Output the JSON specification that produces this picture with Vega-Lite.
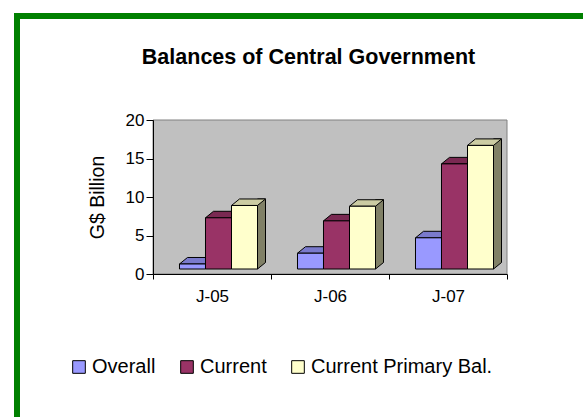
{
  "$schema": "https://vega.github.io/schema/vega-lite/v6.json",
  "width": 566,
  "height": 401,
  "autosize": {"type": "none"},
  "padding": {"left": 17, "top": 16, "right": 0, "bottom": 0},
  "background": "white",
  "config": {
    "font": "Liberation Sans",
    "view": {"stroke": "#008000", "strokeWidth": 6, "strokeDash": [566, 967, 401, 0], "strokeCap": "square", "fill": "white"},
    "axis": {"labelFont": "Liberation Sans", "titleFont": "Liberation Sans", "labelColor": "black", "titleColor": "black", "domainColor": "black", "tickColor": "black", "grid": false}
  },
  "title": {
    "text": "Balances of Central Government",
    "font": "Liberation Sans",
    "fontSize": 21.5,
    "fontWeight": "bold",
    "color": "black",
    "anchor": "middle",
    "frame": "group",
    "baseline": "alphabetic",
    "offset": -69,
    "dx": 8.5
  },
  "datasets": {
    "bal": [
      {"period": "J-05", "series": "Overall", "value": 1.3},
      {"period": "J-05", "series": "Current", "value": 7.3},
      {"period": "J-05", "series": "Current Primary Bal.", "value": 8.9},
      {"period": "J-06", "series": "Overall", "value": 2.7},
      {"period": "J-06", "series": "Current", "value": 6.9},
      {"period": "J-06", "series": "Current Primary Bal.", "value": 8.8},
      {"period": "J-07", "series": "Overall", "value": 4.7},
      {"period": "J-07", "series": "Current", "value": 14.3},
      {"period": "J-07", "series": "Current Primary Bal.", "value": 16.7}
    ]
  },
  "resolve": {"scale": {"x": "independent"}},
  "layer": [
    {
      "data": {"values": [{}]},
      "mark": {"type": "rect", "fill": "#C0C0C0", "stroke": "#808080", "strokeWidth": 1},
      "encoding": {
        "x": {"datum": 0, "type": "quantitative", "scale": {"domain": [0, 1], "range": [136, 490]}, "axis": null},
        "x2": {"datum": 1},
        "y": {
          "datum": 0,
          "type": "quantitative",
          "scale": {"domain": [0, 20], "range": [258, 104], "nice": false},
          "title": "G$ Billion",
          "axis": {"values": [0, 5, 10, 15, 20], "offset": -136, "zindex": 1, "tickSize": 7, "labelPadding": 2, "labelFontSize": 17, "titleFontSize": 19.5, "titleFontWeight": "normal", "titlePadding": 18}
        },
        "y2": {"datum": 20}
      }
    },
    {
      "data": {"name": "bal"},
      "resolve": {"scale": {"fill": "independent"}},
      "encoding": {
        "x": {
          "field": "period",
          "type": "nominal",
          "title": null,
          "scale": {"type": "band", "domain": ["J-05", "J-06", "J-07"], "range": [136, 490], "paddingInner": 0, "paddingOuter": 0},
          "axis": {"offset": -143, "zindex": 1, "tickBand": "extent", "tickSize": 5, "labelPadding": 9, "labelFontSize": 17, "labelAngle": 0}
        },
        "y": {"field": "value", "type": "quantitative", "title": "G$ Billion"}
      },
      "layer": [
        {
          "transform": [{"filter": "datum.series === 'Current Primary Bal.'"}],
          "mark": {"type": "bar", "width": 8, "xOffset": 49.5, "yOffset": -6.5, "y2Offset": -5, "stroke": "black", "strokeWidth": 1, "fill": "#808066"},
          "encoding": {"y2": {"datum": 0}}
        },
        {
          "transform": [{"filter": "datum.series === 'Current Primary Bal.'"}],
          "mark": {"type": "point", "shape": "M45.5,0L53.5,-6.5L55,-6.5L55,1.5L44.5,1.5Z", "size": 4, "filled": true, "fill": "#C0C0C0", "strokeWidth": 0, "opacity": 1, "yOffset": -5},
          "encoding": {"y": {"datum": 0, "type": "quantitative"}}
        },
        {
          "transform": [{"filter": "datum.series === 'Current Primary Bal.'"}],
          "mark": {"type": "point", "shape": "M45.5,0L53.5,-6.5", "size": 4, "filled": false, "stroke": "black", "strokeWidth": 1, "opacity": 1, "yOffset": -5},
          "encoding": {"y": {"datum": 0, "type": "quantitative"}}
        },
        {
          "mark": {"type": "point", "shape": "M-13,0L13,0L21,-6.5L-5,-6.5Z", "size": 4, "filled": true, "stroke": "black", "strokeWidth": 1, "opacity": 1},
          "encoding": {
            "xOffset": {"field": "series", "type": "nominal", "scale": {"domain": ["Overall", "Current", "Current Primary Bal."], "paddingInner": 0, "paddingOuter": 0.769, "align": 0.6625}},
            "fill": {"field": "series", "type": "nominal", "scale": {"domain": ["Overall", "Current", "Current Primary Bal."], "range": ["#7A7ACC", "#7A2952", "#CCCCA3"]}, "legend": null}
          }
        },
        {
          "mark": {"type": "bar", "y2Offset": -5, "stroke": "black", "strokeWidth": 1},
          "encoding": {
            "xOffset": {"field": "series", "type": "nominal", "scale": {"domain": ["Overall", "Current", "Current Primary Bal."], "paddingInner": 0, "paddingOuter": 0.769, "align": 0.6625}},
            "y2": {"datum": 0},
            "fill": {
              "field": "series",
              "type": "nominal",
              "scale": {"domain": ["Overall", "Current", "Current Primary Bal."], "range": ["#9999FF", "#993366", "#FFFFCC"]},
              "legend": {"title": null, "orient": "none", "legendX": 52, "legendY": 341, "direction": "horizontal", "symbolType": "square", "symbolSize": 160, "symbolStrokeColor": "black", "symbolStrokeWidth": 1, "symbolOpacity": 1, "labelFont": "Liberation Sans", "labelFontSize": 20, "labelColor": "black", "labelOffset": 3, "labelLimit": 400, "columnPadding": 21, "padding": 0}
            }
          }
        }
      ]
    }
  ]
}
